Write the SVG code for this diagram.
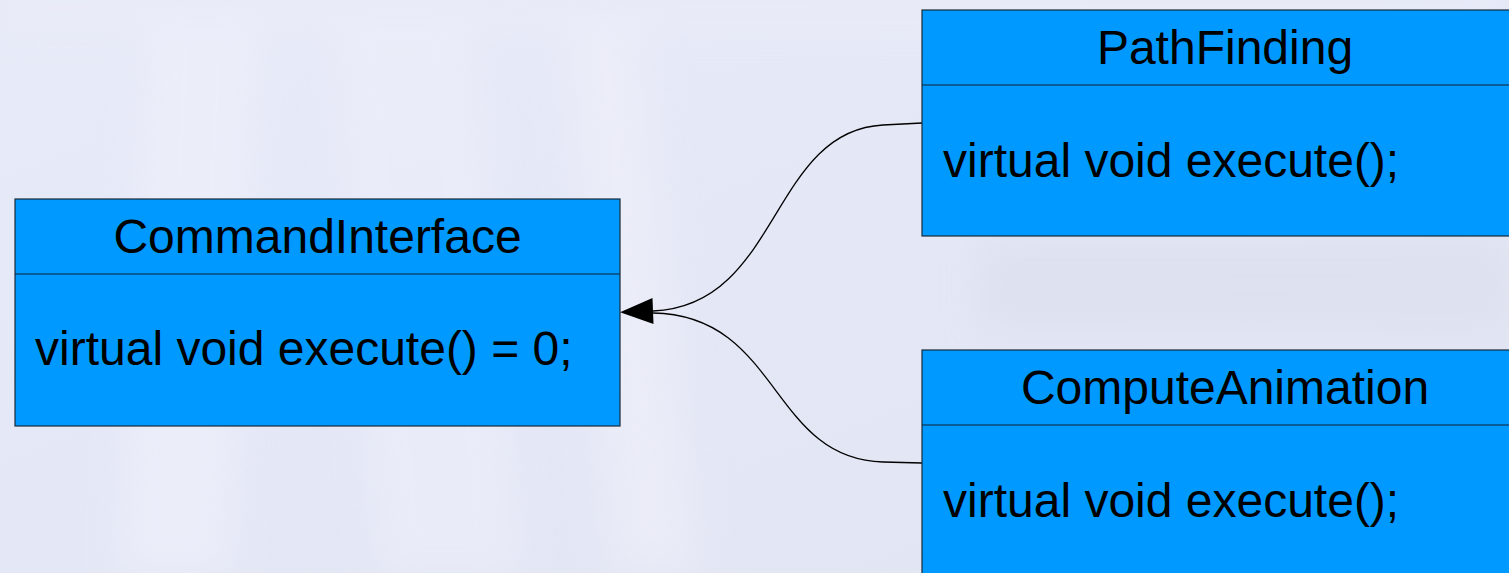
<svg xmlns="http://www.w3.org/2000/svg" width="1509" height="573" viewBox="0 0 1509 573">
  <style>
    .box { fill: #0099ff; stroke: #1a2a3a; stroke-width: 1.2; }
    .sep { stroke: #102030; stroke-width: 1.2; }
    .title { font-family: "Liberation Sans", Arial, sans-serif; font-size: 48px; fill: #000; text-anchor: middle; }
    .body { font-family: "Liberation Sans", Arial, sans-serif; font-size: 48px; fill: #000; }
    .link { fill: none; stroke: #000; stroke-width: 1.3; }
  </style>
  <defs>
    <linearGradient id="bg" x1="0" y1="0" x2="1" y2="1">
      <stop offset="0" stop-color="#e7eaf7"/>
      <stop offset="0.5" stop-color="#e4e7f5"/>
      <stop offset="1" stop-color="#e1e4f1"/>
    </linearGradient>
    <filter id="soft" x="-20%" y="-20%" width="140%" height="140%">
      <feGaussianBlur stdDeviation="18"/>
    </filter>
    <!-- filled triangular head, base sits on the line end -->
    <marker id="arrow" markerWidth="34" markerHeight="28" refX="0" refY="0" viewBox="0 -14 34 28" orient="auto" markerUnits="userSpaceOnUse" overflow="visible">
      <path d="M0,-13 L33,0 L0,13 Z" fill="#000"/>
    </marker>
  </defs>

  <!-- backdrop -->
  <rect width="1509" height="573" fill="url(#bg)"/>
  <g filter="url(#soft)" opacity="0.7">
    <path d="M150,0 L260,0 L230,573 L120,573 Z" fill="#eef0fb"/>
    <path d="M330,0 L470,0 L520,573 L380,573 Z" fill="#eceefa"/>
    <path d="M560,0 L640,0 L700,573 L610,573 Z" fill="#edeff9"/>
    <path d="M980,240 L1509,240 L1509,330 L980,330 Z" fill="#dcdfee"/>
    <path d="M0,0 L1509,0 L1509,30 L0,30 Z" fill="#eceefa"/>
  </g>

  <!-- connectors: realisation links into the interface -->
  <g id="connectors">
    <path class="link" d="M922,123 L883,125 C770,131 780,306 653,311" marker-end="url(#arrow)"/>
    <path class="link" d="M922,463 L883,462 C770,459 780,315 653,313"/>
  </g>

  <g id="CommandInterface">
    <rect class="box" x="15" y="199" width="605" height="227"/>
    <line class="sep" x1="15" y1="274" x2="620" y2="274"/>
    <text class="title" x="317.5" y="253">CommandInterface</text>
    <text class="body" x="35" y="365">virtual void execute() = 0;</text>
  </g>

  <g id="PathFinding">
    <rect class="box" x="922" y="10" width="606" height="226"/>
    <line class="sep" x1="922" y1="85" x2="1528" y2="85"/>
    <text class="title" x="1225" y="64">PathFinding</text>
    <text class="body" x="943" y="177">virtual void execute();</text>
  </g>

  <g id="ComputeAnimation">
    <rect class="box" x="922" y="350" width="606" height="240"/>
    <line class="sep" x1="922" y1="425" x2="1528" y2="425"/>
    <text class="title" x="1225" y="404">ComputeAnimation</text>
    <text class="body" x="943" y="517">virtual void execute();</text>
  </g>
</svg>
